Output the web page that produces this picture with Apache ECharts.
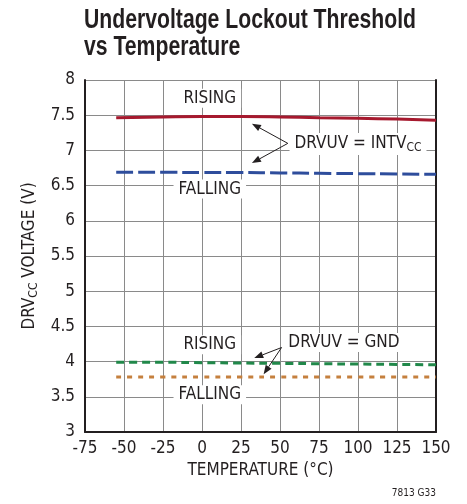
<!DOCTYPE html>
<html><head><meta charset="utf-8">
<script src="https://cdn.jsdelivr.net/npm/echarts@6/dist/echarts.min.js"></script>
<style>html,body{margin:0;padding:0;background:#fff}#c{width:467px;height:504px}</style>
</head><body><div id="c"></div>
<script>
var temps = [-55, -25, 0, 25, 50, 75, 100, 125, 150];
var intvRising  = [7.465, 7.475, 7.48, 7.48, 7.475, 7.465, 7.455, 7.445, 7.43];
var intvFalling = [6.69, 6.69, 6.685, 6.685, 6.68, 6.675, 6.67, 6.665, 6.66];
var gndRising   = [3.99, 3.99, 3.985, 3.98, 3.975, 3.97, 3.965, 3.96, 3.955];
var gndFalling  = [3.78, 3.78, 3.78, 3.78, 3.78, 3.78, 3.78, 3.78, 3.78];
var xTicks = [-75, -50, -25, 0, 25, 50, 75, 100, 125, 150];
var yTicks = [3, 3.5, 4, 4.5, 5, 5.5, 6, 6.5, 7, 7.5, 8];

var FONT = '"DejaVu Sans Condensed","DejaVu Sans",sans-serif';
var TFONT = '"Liberation Sans",Arial,sans-serif';
function pairs(v){ return temps.map(function(t,i){return [t, v[i]];}); }
function fmt(v){ return String(v); }

var chart = echarts.init(document.getElementById('c'), null, {renderer:'canvas'});
var grid = {left:85, top:80, width:351, height:352};
function line(name, data, color, type, width){
  return {name:name, type:'line', data:pairs(data), symbol:'none', smooth:true,
    lineStyle:{color:color, width:width, type:type}, z:5, silent:true};
}
var option = {
  backgroundColor:'#fff',
  animation:false,
  grid:grid,
  xAxis:{type:'value', min:-75, max:150, interval:25,
    name:'TEMPERATURE (°C)', nameLocation:'middle', nameGap:27,
    nameTextStyle:{fontFamily:FONT, fontSize:17, color:'#231f20'},
    axisLine:{show:true, onZero:false, lineStyle:{color:'#231f20', width:2}},
    axisTick:{show:false},
    axisLabel:{fontFamily:FONT, fontSize:17, color:'#231f20', margin:8, formatter:fmt},
    splitLine:{show:true, lineStyle:{color:'#8a8a8a', width:1}}},
  yAxis:[{type:'value', min:3, max:8, interval:0.5,
    name:'{a|DRV}{s|CC}{a| VOLTAGE (V)}', nameLocation:'middle', nameGap:40, nameRotate:90,
    nameTextStyle:{rich:{a:{fontFamily:FONT, fontSize:17, color:'#231f20'},
      s:{fontFamily:FONT, fontSize:12, color:'#231f20', verticalAlign:'bottom', padding:[8,0,0,0]}}},
    axisLine:{show:true, onZero:false, lineStyle:{color:'#231f20', width:2}},
    axisTick:{show:false},
    axisLabel:{fontFamily:FONT, fontSize:17, color:'#231f20', margin:10, formatter:fmt},
    splitLine:{show:true, lineStyle:{color:'#8a8a8a', width:1}}},
   {type:'value', min:3, max:8, interval:0.5, position:'right',
    axisLine:{show:true, onZero:false, lineStyle:{color:'#231f20', width:2}},
    axisTick:{show:false}, axisLabel:{show:false}, splitLine:{show:false}}],
  series:[
    line('INTVCC rising', intvRising, '#a6192e', 'solid', 3),
    line('INTVCC falling', intvFalling, '#2e4d9c', [17,5], 3),
    line('GND rising', gndRising, '#21884a', [8,5], 3),
    line('GND falling', gndFalling, '#c5803e', [5,6], 3)
  ]
};
chart.setOption(option);

function px(x,y){ return chart.convertToPixel({xAxisIndex:0, yAxisIndex:0}, [x,y]); }
var g = [];
function label(text, x, y, rich){
  var p = px(x,y);
  g.push({type:'text', x:p[0], y:p[1], z:20,
    style:{text:text, fontFamily:FONT, fontSize:17, fill:'#231f20', align:'center', verticalAlign:'middle',
      backgroundColor:'#fff', padding:[1,5,1,5], rich:rich}});
}
function arrow(x0,y0,x1,y1){
  var a = px(x0,y0), b = px(x1,y1);
  var dx=b[0]-a[0], dy=b[1]-a[1], L=Math.sqrt(dx*dx+dy*dy), ux=dx/L, uy=dy/L;
  var hl=9, hw=3.5;
  var bx=b[0]-ux*hl, by=b[1]-uy*hl;
  g.push({type:'line', z:21, shape:{x1:a[0],y1:a[1],x2:bx,y2:by}, style:{stroke:'#231f20', lineWidth:1}});
  g.push({type:'polygon', z:21, shape:{points:[[b[0],b[1]],[bx-uy*hw,by+ux*hw],[bx+uy*hw,by-ux*hw]]},
    style:{fill:'#231f20'}});
}
label('RISING', 5, 7.74);
label('FALLING', 5, 6.45);
label('RISING', 5, 4.24);
label('FALLING', 5, 3.53);
var sub = {a:{fontFamily:FONT, fontSize:17, fill:'#231f20'}, s:{fontFamily:FONT, fontSize:12, fill:'#231f20', padding:[8,0,0,0]}};
label('{a|DRVUV = INTV}{s|CC}', 100, 7.09, sub);
label('DRVUV = GND', 91, 4.27);
arrow(55, 7.1, 32, 7.38);
arrow(55, 7.1, 32, 6.82);
arrow(51, 4.2, 33.5, 4.05);
arrow(51, 4.2, 39.5, 3.82);

// title, horizontally condensed to match the reference width
var ctx = document.createElement('canvas').getContext('2d');
ctx.font = 'bold 28px ' + TFONT;
var w1 = ctx.measureText('Undervoltage Lockout Threshold').width;
var sx = 332 / w1;
g.push({type:'text', x:84, y:6, scaleX:sx, style:{text:'Undervoltage Lockout Threshold', font:'bold 28px ' + TFONT, fill:'#231f20', verticalAlign:'top'}});
g.push({type:'text', x:84, y:33, scaleX:sx, style:{text:'vs Temperature', font:'bold 28px ' + TFONT, fill:'#231f20', verticalAlign:'top'}});
g.push({type:'text', x:436, y:498, style:{text:'7813 G33', fontFamily:FONT, fontSize:10, fill:'#231f20', align:'right', verticalAlign:'bottom'}});
chart.setOption({graphic:g});
</script>
</body></html>
